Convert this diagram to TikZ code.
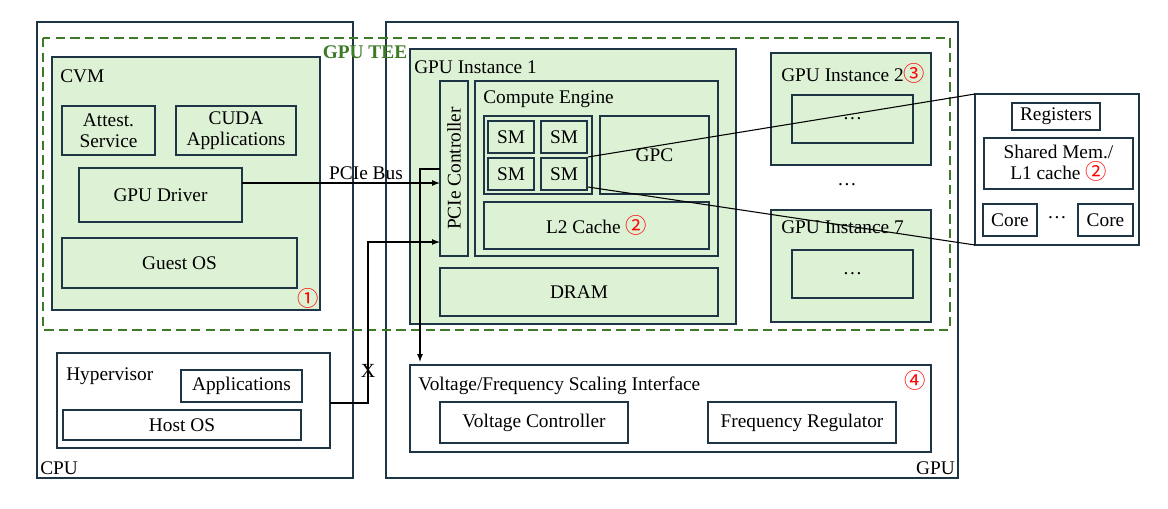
\documentclass[tikz,border=0pt]{standalone}
\usepackage{fontspec}
\setmainfont{Liberation Serif}
\newfontfamily\cjk{Noto Sans CJK SC}
\usetikzlibrary{positioning,arrows.meta}
\definecolor{boxgreen}{HTML}{DDF1D5}
\definecolor{boxline}{HTML}{1E3545}
\definecolor{teegreen}{HTML}{3C7A26}
\newcommand{\circnum}[1]{\textcolor{red}{\cjk\fontsize{16}{16}\selectfont #1}}
\tikzset{
  blk/.style={draw=boxline,line width=0.9pt,fill=boxgreen},
  wblk/.style={draw=boxline,line width=0.9pt,fill=white},
  lbl/.style={inner sep=0pt,font=\fontsize{14.5}{16}\selectfont},
  num/.style={inner sep=0pt},
  link/.style={black,line width=0.8pt}
}
\begin{document}
\begin{tikzpicture}[x=0.75pt,y=-0.75pt]
\useasboundingbox (0,0) rectangle (1168,508);
% outer frames
\draw[wblk] (37,22) rectangle (353,478);
\draw[wblk] (386,22) rectangle (958,478);
\node[lbl,anchor=south west] (cpu) at (40,475) {CPU};
\node[lbl,anchor=south east] (gpu) at (955,475) {GPU};
% CVM side
\draw[blk] (52,57) rectangle (320,310);
\node[lbl,anchor=north west] (cvm) at (60,69) {CVM};
\node[num] (n1) at (308,298) {\circnum{①}};
\draw[blk] (62,106) rectangle (155,155) node[midway,lbl,align=center] (attest) {Attest.\\Service};
\draw[blk] (176,106) rectangle (296,155) node[midway,lbl,align=center] (cuda) {CUDA\\Applications};
\draw[blk] (79,168) rectangle (242,222) node[midway,lbl] (driver) {GPU Driver};
\draw[blk] (62,238) rectangle (297,288) node[midway,lbl] (guest) {Guest OS};
% hypervisor
\draw[wblk] (57,353) rectangle (330,448);
\node[lbl,anchor=north west] (hyp) at (66,367) {Hypervisor};
\draw[wblk] (181,370) rectangle (302,402) node[midway,lbl] (apps) {Applications};
\draw[wblk] (63,410) rectangle (301,440) node[midway,lbl] (host) {Host OS};
% GPU instance 1
\draw[blk] (410,49) rectangle (736,324);
\node[lbl,anchor=north west] (gi1) at (414,60) {GPU Instance 1};
\draw[blk] (440,81) rectangle (468,256) node[midway,lbl,rotate=90] (pcie) {PCIe Controller};
\draw[blk] (475,81) rectangle (718,256);
\node[lbl,anchor=north west] (ce) at (483,90) {Compute Engine};
\draw[blk] (484,116) rectangle (592,194);
\foreach \x/\y in {488/121,541/121,488/158,541/158}
  \draw[blk] (\x,\y) rectangle ++(46,32) node[midway,lbl] {SM};
\draw[blk] (600,116) rectangle (709,194) node[midway,lbl] (gpc) {GPC};
\draw[blk] (484,202) rectangle (709,249) node[midway,lbl] (l2) {L2 Cache \circnum{②}};
\draw[blk] (440,268) rectangle (718,316) node[midway,lbl] (dram) {DRAM};
% other instances
\draw[blk] (771,53) rectangle (931,165);
\node[lbl,anchor=north west] (gi2) at (781,63) {GPU Instance 2\circnum{③}};
\draw[blk] (792,95) rectangle (913,143) node[midway,lbl] {\dots};
\node[lbl] (dots) at (847,185) {\dots};
\draw[blk] (771,210) rectangle (931,322);
\node[lbl,anchor=north west] (gi7) at (781,220) {GPU Instance 7};
\draw[blk] (792,250) rectangle (913,298) node[midway,lbl] {\dots};
% V/F interface
\draw[wblk] (410,365) rectangle (931,452);
\node[lbl,anchor=north west] (vf) at (418,377) {Voltage/Frequency Scaling Interface};
\node[num] (n4) at (915,380) {\circnum{④}};
\draw[wblk] (440,402) rectangle (628,443) node[midway,lbl] (volt) {Voltage Controller};
\draw[wblk] (708,402) rectangle (896,443) node[midway,lbl] (freq) {Frequency Regulator};
% TEE
\draw[teegreen,line width=1.3pt,dash pattern=on 7pt off 4pt] (43,38) rectangle (950,330);
\node[lbl,text=teegreen,font=\bfseries\fontsize{14.5}{16}\selectfont] (tee) at (365,52) {GPU TEE};
% SM detail
\draw[wblk] (975,94) rectangle (1139,245);
\draw[wblk] (1012,103) rectangle (1100,130) node[midway,lbl] (reg) {Registers};
\draw[wblk] (984,138) rectangle (1133,189) node[midway,lbl,align=center] (shm) {Shared Mem./\\L1 cache \circnum{②}};
\draw[wblk] (983,204) rectangle (1037,236) node[midway,lbl] (core1) {Core};
\node[lbl] (cdots) at (1057,218) {\dots};
\draw[wblk] (1078,204) rectangle (1133,236) node[midway,lbl] (core2) {Core};
\draw[link] (588,157) -- (975,94);
\draw[link] (588,187) -- (975,245);
% connections
\draw[link,-{Latex[length=6pt]}] (242,183) -- (440,183);
\node[lbl,anchor=south] (bus) at (366,180) {PCIe Bus};
\draw[link,-{Latex[length=6pt]}] (330,403) -- (368,403) -- (368,242) -- (440,242);
\node[lbl,font=\fontsize{15}{15}\selectfont] (cross) at (368,371) {X};
\draw[link,-{Latex[length=6pt]}] (440,169) -- (420,169) -- (420,362);
\end{tikzpicture}
\end{document}
